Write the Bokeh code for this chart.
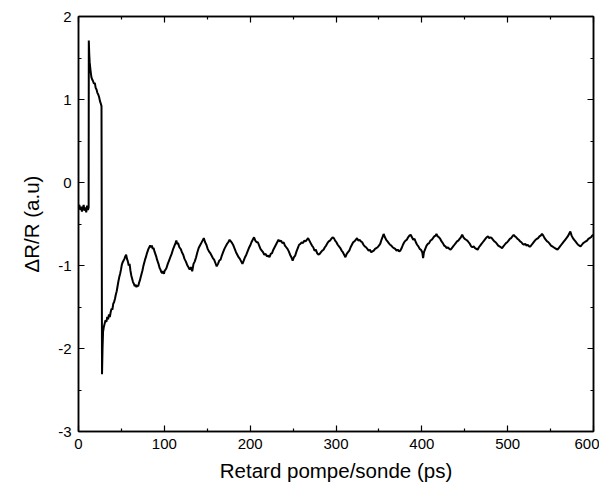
from bokeh.plotting import figure
from bokeh.models import Range1d, LinearAxis, FixedTicker, CustomJSTickFormatter
from bokeh.embed import file_html
from bokeh.resources import INLINE

# ---- data ----
delay_ps = [0, 1, 2, 3, 4, 5, 6, 7, 8, 9, 10, 11, 11.8,
            12.0, 12.5, 13, 14, 15, 16, 17, 18, 19, 20, 21, 22, 23, 24, 25, 26, 26.8,
            27.4, 28, 28.6, 29.5, 30.5, 31.5, 32.5, 33.5, 34.5, 35.5, 36.5, 37.5, 38.5, 39.5,
            40.5, 41.5, 42.5, 43.5, 44.5, 45.5, 46.5, 47.5, 48.5, 49.5, 50.5, 51.5, 52.5, 53.5,
            54.5, 55.5, 56.5, 57.5, 58.5, 59.5, 60.5, 61.5, 62.5, 63.5, 64.5, 65.5, 66.5, 67.5,
            68.5, 69.5, 70.5, 71.5, 72.5, 73.5, 74.5, 75.5, 76.5, 77.5, 78.5, 79.5, 80.5, 81.5,
            82.5, 83.5, 84.5, 85.5, 86.5, 87.5, 88.5, 89.5, 90.5, 91.5, 92.5, 93.5, 94.5, 95.5,
            96.5, 97.5, 98.5, 99.5, 100.5, 101.5, 102.5, 104, 105.5, 107, 108.5, 110, 111.5, 113,
            114, 115, 116, 117.5, 119, 120.5, 122, 123.5, 125, 126.5, 128, 129.5, 131, 132.5,
            134, 135.5, 137, 138.5, 140, 141.5, 143, 144.5, 146, 147.5, 149, 150.5, 152, 153.5,
            155, 156.5, 158, 159.5, 161, 162.5, 164, 165.5, 167, 168.5, 170, 171.5, 173, 174.5,
            176, 177.5, 179, 180.5, 182, 183.5, 185, 186.5, 188, 189.5, 191, 192.5, 194, 195.5,
            197, 198.5, 200, 201.5, 203, 204.5, 206, 207.5, 209, 210.5, 212, 213.5, 215, 216.5,
            218, 219.5, 221, 222.5, 224, 225.5, 227, 228.5, 230, 231.5, 233, 234.5, 236, 237.5,
            239, 240.5, 242, 243.5, 245, 246.5, 248, 249.5, 251, 252.5, 254, 255.5, 257, 258.5,
            260, 261.5, 263, 264.5, 266, 267.5, 269, 270.5, 272, 273.5, 275, 276.5, 278, 279.5,
            281, 282.5, 284, 285.5, 287, 288.5, 290, 291.5, 293, 294.5, 296, 297.5, 299, 300.5,
            302, 303.5, 305, 306.5, 308, 309.5, 311, 312.5, 314, 315.5, 317, 318.5, 320, 321.5,
            323, 324.5, 326, 327.5, 329, 330.5, 332, 333.5, 335, 336.5, 338, 339.5, 341, 342.5,
            344, 345.5, 347, 348.5, 350, 351.5, 353, 354.5, 355.5, 357, 358.5, 360, 361.5, 363,
            364.5, 366, 367.5, 369, 370.5, 372, 373.5, 375, 376.5, 378, 379.5, 381, 382.5, 384,
            385.5, 387, 388.5, 390, 391.5, 393, 394.5, 396, 397.5, 399, 400.5, 401.5, 402.5, 404,
            405.5, 407, 408.5, 410, 411.5, 413, 414.5, 416, 417, 418.5, 420, 421.5, 423, 424.5,
            426, 427.5, 429, 430.5, 432, 433.5, 435, 436.5, 438, 439.5, 441, 442.5, 444, 445.5,
            447, 448.5, 450, 451.5, 453, 454.5, 456, 457.5, 459, 460.5, 462, 463.5, 465, 466.5,
            468, 469.5, 471, 472.5, 474, 475.5, 477, 478.5, 480, 481.5, 483, 484.5, 486, 487.5,
            489, 490.5, 492, 493.5, 495, 496.5, 498, 499.5, 501, 502.5, 504, 505.5, 507, 508.5,
            510, 511.5, 513, 514.5, 516, 517.5, 519, 520.5, 522, 523.5, 525, 526.5, 528, 529.5,
            531, 532.5, 534, 535.5, 537, 538.5, 540, 541.5, 543, 544.5, 546, 547.5, 549, 550.5,
            552, 553.5, 555, 556.5, 558, 559.5, 561, 562.5, 564, 565.5, 567, 568.5, 570, 571.5,
            573, 574.5, 576, 577.5, 579, 580.5, 582, 583.5, 585, 586.5, 588, 589.5, 591, 592.5,
            594, 595.5, 597, 598.5, 600]

dR_over_R = [-0.30, -0.27, -0.33, -0.29, -0.35, -0.31, -0.27, -0.34, -0.30, -0.36, -0.28, -0.33, -0.30,
             1.71, 1.55, 1.45, 1.35, 1.27, 1.24, 1.22, 1.19, 1.20, 1.14, 1.12, 1.08, 1.06, 1.03, 0.98, 0.95, 0.92,
             -2.31, -2.00, -1.80, -1.74, -1.70, -1.66, -1.68, -1.62, -1.65, -1.59, -1.62, -1.56, -1.52, -1.53,
             -1.46, -1.44, -1.40, -1.35, -1.31, -1.25, -1.19, -1.14, -1.10, -1.05, -0.99, -0.96, -0.94, -0.92,
             -0.89, -0.87, -0.92, -0.95, -1.00, -0.98, -1.06, -1.12, -1.16, -1.20, -1.22, -1.25, -1.23, -1.26,
             -1.24, -1.25, -1.21, -1.18, -1.14, -1.10, -1.06, -1.01, -0.97, -0.93, -0.90, -0.86, -0.83, -0.80,
             -0.78, -0.76, -0.78, -0.76, -0.80, -0.79, -0.83, -0.86, -0.89, -0.93, -0.96, -0.99, -1.03, -1.05,
             -1.08, -1.09, -1.07, -1.10, -1.06, -1.05, -1.03, -0.98, -0.94, -0.90, -0.86, -0.81, -0.77, -0.73,
             -0.70, -0.74, -0.73, -0.78, -0.80, -0.84, -0.87, -0.92, -0.95, -0.99, -1.02, -1.05, -1.02, -1.07,
             -0.98, -0.95, -0.90, -0.84, -0.79, -0.76, -0.73, -0.70, -0.67, -0.72, -0.75, -0.80, -0.83, -0.85,
             -0.88, -0.91, -0.93, -0.97, -1.01, -0.98, -0.94, -0.93, -0.88, -0.84, -0.80, -0.77, -0.74, -0.72,
             -0.69, -0.71, -0.73, -0.76, -0.80, -0.84, -0.87, -0.90, -0.92, -0.95, -0.98, -0.94, -0.90, -0.87,
             -0.83, -0.79, -0.76, -0.72, -0.69, -0.66, -0.70, -0.72, -0.72, -0.76, -0.80, -0.82, -0.84, -0.87,
             -0.86, -0.89, -0.88, -0.90, -0.86, -0.85, -0.81, -0.78, -0.75, -0.72, -0.69, -0.71, -0.70, -0.73,
             -0.72, -0.76, -0.78, -0.80, -0.83, -0.87, -0.90, -0.94, -0.90, -0.88, -0.83, -0.79, -0.75, -0.74,
             -0.72, -0.73, -0.70, -0.71, -0.69, -0.67, -0.70, -0.73, -0.76, -0.78, -0.82, -0.81, -0.85, -0.87,
             -0.86, -0.84, -0.82, -0.81, -0.78, -0.76, -0.73, -0.71, -0.70, -0.68, -0.66, -0.67, -0.70, -0.72,
             -0.75, -0.77, -0.79, -0.82, -0.84, -0.87, -0.90, -0.86, -0.84, -0.82, -0.78, -0.75, -0.72, -0.71,
             -0.69, -0.67, -0.70, -0.69, -0.71, -0.72, -0.75, -0.77, -0.78, -0.80, -0.82, -0.81, -0.84, -0.83,
             -0.82, -0.80, -0.79, -0.78, -0.76, -0.74, -0.69, -0.65, -0.62, -0.66, -0.69, -0.71, -0.73, -0.75,
             -0.76, -0.78, -0.79, -0.80, -0.82, -0.81, -0.83, -0.82, -0.79, -0.75, -0.72, -0.70, -0.69, -0.66,
             -0.64, -0.63, -0.66, -0.69, -0.68, -0.72, -0.75, -0.77, -0.80, -0.81, -0.84, -0.91, -0.84, -0.80,
             -0.76, -0.74, -0.73, -0.70, -0.69, -0.67, -0.65, -0.64, -0.62, -0.65, -0.66, -0.68, -0.71, -0.73,
             -0.76, -0.77, -0.79, -0.78, -0.80, -0.81, -0.79, -0.77, -0.75, -0.73, -0.71, -0.70, -0.68, -0.66,
             -0.63, -0.66, -0.68, -0.69, -0.70, -0.72, -0.74, -0.77, -0.78, -0.77, -0.79, -0.80, -0.81, -0.78,
             -0.76, -0.74, -0.72, -0.70, -0.68, -0.66, -0.65, -0.67, -0.66, -0.67, -0.69, -0.71, -0.72, -0.74,
             -0.76, -0.77, -0.78, -0.79, -0.77, -0.75, -0.73, -0.72, -0.70, -0.68, -0.67, -0.65, -0.63, -0.65,
             -0.66, -0.68, -0.69, -0.71, -0.72, -0.74, -0.75, -0.74, -0.76, -0.75, -0.77, -0.77, -0.75, -0.73,
             -0.71, -0.69, -0.68, -0.67, -0.65, -0.64, -0.62, -0.64, -0.67, -0.69, -0.71, -0.72, -0.74, -0.76,
             -0.77, -0.78, -0.79, -0.80, -0.81, -0.79, -0.77, -0.75, -0.73, -0.71, -0.69, -0.67, -0.65, -0.62,
             -0.59, -0.64, -0.67, -0.69, -0.71, -0.73, -0.75, -0.76, -0.77, -0.75, -0.73, -0.72, -0.71, -0.70,
             -0.68, -0.67, -0.66, -0.64, -0.63]

x_ticks = [0, 100, 200, 300, 400, 500, 600]
y_ticks = [2, 1, 0, -1, -2, -3]
y_tick_labels = ["2", "1", "0", "-1", "-2", "-3"]

FONT = "Liberation Sans"

p = figure(width=599, height=484, output_backend="svg", toolbar_location=None,
           x_range=Range1d(0, 600), y_range=Range1d(-3, 2),
           min_border_left=78, min_border_right=6, min_border_top=16, min_border_bottom=52)

p.line(delay_ps, dR_over_R, line_color="black", line_width=2.0)

p.xgrid.visible = False
p.ygrid.visible = False
p.outline_line_color = "black"
p.outline_line_width = 1.5
p.background_fill_color = "white"
p.border_fill_color = "white"

def style(ax, labels=True):
    ax.axis_line_color = "black"
    ax.axis_line_width = 1.5
    ax.major_tick_in = 6
    ax.major_tick_out = 0
    ax.minor_tick_in = 3
    ax.minor_tick_out = 0
    ax.major_tick_line_color = "black"
    ax.minor_tick_line_color = "black"
    ax.major_tick_line_width = 1.2
    ax.minor_tick_line_width = 1.2
    ax.major_label_text_font = FONT
    ax.major_label_text_font_size = "15px"
    ax.major_label_text_color = "black"
    ax.axis_label_text_font = FONT
    ax.axis_label_text_font_size = "20.5px"
    ax.axis_label_text_font_style = "normal"
    ax.axis_label_text_color = "black"
    if not labels:
        ax.formatter = CustomJSTickFormatter(code="return '';")
        ax.major_label_standoff = 0

xa = p.xaxis[0]
style(xa)
xa.ticker = FixedTicker(ticks=x_ticks, minor_ticks=[v + 50 for v in x_ticks[:-1]])
xa.axis_label = "Retard pompe/sonde (ps)"
xa.major_label_standoff = 7
xa.axis_label_standoff = 7

ya = p.yaxis[0]
style(ya)
ya.ticker = FixedTicker(ticks=y_ticks, minor_ticks=[v - 0.5 for v in y_ticks[:-1]])
ya.major_label_overrides = {t: s for t, s in zip(y_ticks, y_tick_labels)}
ya.axis_label = "ΔR/R (a.u)"
ya.major_label_standoff = 7
ya.axis_label_standoff = 12

top = LinearAxis(ticker=FixedTicker(ticks=x_ticks, minor_ticks=[v + 50 for v in x_ticks[:-1]]))
style(top, labels=False)
p.add_layout(top, "above")

right = LinearAxis(ticker=FixedTicker(ticks=y_ticks, minor_ticks=[v - 0.5 for v in y_ticks[:-1]]))
style(right, labels=False)
p.add_layout(right, "right")

open("out.html", "w").write(file_html(p, INLINE))
